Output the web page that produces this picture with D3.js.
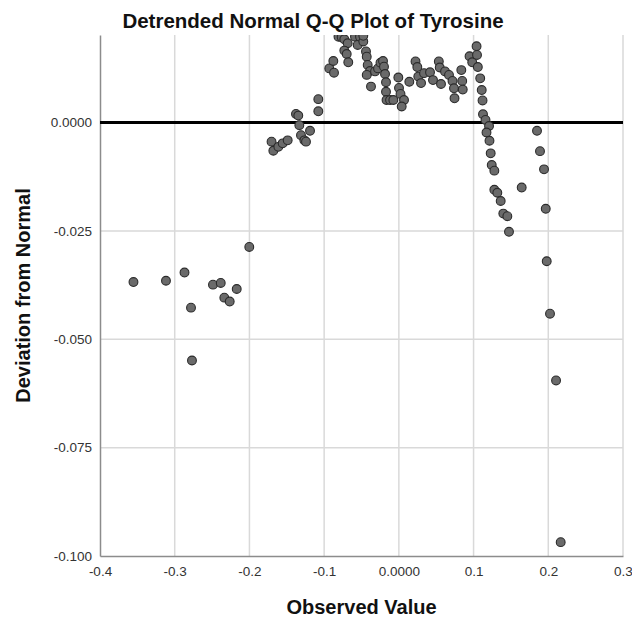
<!DOCTYPE html>
<html>
<head>
<meta charset="utf-8">
<script src="https://cdnjs.cloudflare.com/ajax/libs/d3/7.8.5/d3.min.js"></script>
<style>
    body { margin: 0; background: #fff; }
    text { font-family: Arial, "Liberation Sans", sans-serif; }
</style>
</head>
<body>
<div id="chart"></div>
<script>
var title = "Detrended Normal Q-Q Plot of Tyrosine",
    x_label = "Observed Value",
    y_label = "Deviation from Normal";

var observed = [
    -0.3552, -0.3117, -0.2869, -0.2782, -0.2769, -0.2488, -0.2384, -0.2336, -0.2264, -0.2170, -0.2002,
    -0.1704, -0.1680, -0.1613, -0.1555, -0.1488, -0.1377, -0.1346, -0.1332, -0.1310, -0.1265, -0.1243,
    -0.1189, -0.1078, -0.1078, -0.0931, -0.0877, -0.0868, -0.0808, -0.0765, -0.0730, -0.0685, -0.0730,
    -0.0698, -0.0677, -0.0587, -0.0551, -0.0520, -0.0476, -0.0476, -0.0440, -0.0430, -0.0417, -0.0386,
    -0.0430, -0.0373, -0.0319, -0.0279, -0.0246, -0.0212, -0.0199, -0.0185, -0.0172, -0.0172, -0.0165,
    -0.0118, -0.0074, -0.0007, 0.0002, 0.0022, 0.0069, 0.0038, 0.0140, 0.0223, 0.0247, 0.0260, 0.0297,
    0.0337, 0.0417, 0.0457, 0.0535, 0.0547, 0.0564, 0.0618, 0.0671, 0.0718, 0.0738, 0.0745, 0.0836,
    0.0848, 0.0855, 0.0946, 0.0982, 0.1040, 0.1046, 0.1057, 0.1089, 0.1109, 0.1120, 0.1126, 0.1160,
    0.1207, 0.1173, 0.1213, 0.1229, 0.1243, 0.1278, 0.1278, 0.1318, 0.1363, 0.1398, 0.1452, 0.1474,
    0.1644, 0.1849, 0.1889, 0.1943, 0.1966, 0.1979, 0.2023, 0.2104, 0.2166
];
var deviation = [
    -0.0368, -0.0365, -0.0346, -0.0427, -0.0549, -0.0374, -0.0370, -0.0404, -0.0413, -0.0384, -0.0287,
    -0.0044, -0.0065, -0.0056, -0.0048, -0.0041, 0.0020, 0.0016, -0.0006, -0.0029, -0.0041, -0.0044,
    -0.0019, 0.0026, 0.0054, 0.0125, 0.0142, 0.0115, 0.0198, 0.0197, 0.0192, 0.0183, 0.0166,
    0.0158, 0.0139, 0.0198, 0.0179, 0.0198, 0.0187, 0.0200, 0.0164, 0.0152, 0.0133, 0.0119,
    0.0110, 0.0083, 0.0118, 0.0125, 0.0138, 0.0142, 0.0129, 0.0112, 0.0093, 0.0071, 0.0052,
    0.0052, 0.0052, 0.0104, 0.0080, 0.0066, 0.0052, 0.0037, 0.0094, 0.0141, 0.0128, 0.0106, 0.0091,
    0.0114, 0.0116, 0.0098, 0.0141, 0.0127, 0.0089, 0.0118, 0.0110, 0.0096, 0.0079, 0.0056, 0.0121,
    0.0096, 0.0076, 0.0153, 0.0139, 0.0176, 0.0156, 0.0128, 0.0102, 0.0075, 0.0051, 0.0019, 0.0006,
    -0.0008, -0.0023, -0.0042, -0.0071, -0.0098, -0.0111, -0.0155, -0.0162, -0.0181, -0.0210, -0.0216, -0.0252,
    -0.0150, -0.0019, -0.0066, -0.0108, -0.0199, -0.0320, -0.0441, -0.0595, -0.0968
];

var x_ticks = [-0.4, -0.3, -0.2, -0.1, 0, 0.1, 0.2, 0.3],
    x_tick_labels = ["-0.4", "-0.3", "-0.2", "-0.1", "0.0000", "0.1", "0.2", "0.3"],
    y_ticks = [0, -0.025, -0.05, -0.075, -0.1],
    y_tick_labels = ["0.0000", "-0.025", "-0.050", "-0.075", "-0.100"];

var width = 632,
    height = 625,
    margin = {top: 35, right: 9, bottom: 69, left: 100};

var svg = d3.select("#chart").append("svg")
    .attr("width", width)
    .attr("height", height);

var x = d3.scaleLinear()
    .domain([-0.4, 0.3])
    .range([margin.left, width - margin.right]);
var y = d3.scaleLinear()
    .domain([-0.1, 0.0202])
    .range([height - margin.bottom, margin.top]);

svg.append("clipPath").attr("id", "plot_clip")
    .append("rect")
    .attr("x", margin.left)
    .attr("y", margin.top)
    .attr("width", width - margin.left - margin.right)
    .attr("height", height - margin.top - margin.bottom);

// gridlines
svg.append("g")
    .selectAll("line")
    .data(x_ticks.slice(1))
    .join("line")
    .attr("x1", d => x(d)).attr("x2", d => x(d))
    .attr("y1", margin.top).attr("y2", height - margin.bottom)
    .attr("stroke", "#d9d9d9")
    .attr("stroke-width", 1.5);
svg.append("g")
    .selectAll("line")
    .data(y_ticks.slice(1, 4))
    .join("line")
    .attr("x1", margin.left).attr("x2", width - margin.right)
    .attr("y1", d => y(d)).attr("y2", d => y(d))
    .attr("stroke", "#d9d9d9")
    .attr("stroke-width", 1.5);

// axes
var x_axis = d3.axisBottom(x)
    .tickValues(x_ticks)
    .tickFormat((d, i) => x_tick_labels[i])
    .tickSize(0)
    .tickPadding(10);
var y_axis = d3.axisLeft(y)
    .tickValues(y_ticks)
    .tickFormat((d, i) => y_tick_labels[i])
    .tickSize(0)
    .tickPadding(8);

var gx = svg.append("g")
    .attr("transform", `translate(0,${height - margin.bottom})`)
    .call(x_axis);
var gy = svg.append("g")
    .attr("transform", `translate(${margin.left},0)`)
    .call(y_axis);

[gx, gy].forEach(function (g) {
    g.select(".domain").attr("stroke", "#8c8c8c").attr("stroke-width", 1.5);
    g.selectAll("text")
        .style("font-size", "13.5px")
        .style("font-family", "Arial, 'Liberation Sans', sans-serif")
        .attr("fill", "#333");
});

// zero reference line
svg.append("line")
    .attr("x1", margin.left).attr("x2", width - margin.right)
    .attr("y1", y(0)).attr("y2", y(0))
    .attr("stroke", "#000")
    .attr("stroke-width", 3);

// points
svg.append("g")
    .attr("clip-path", "url(#plot_clip)")
    .selectAll("circle")
    .data(observed)
    .join("circle")
    .attr("cx", d => x(d))
    .attr("cy", (d, i) => y(deviation[i]))
    .attr("r", 4.4)
    .attr("fill", "#6a6a6a")
    .attr("stroke", "#2b2b2b")
    .attr("stroke-width", 1.1);

// titles
svg.append("text")
    .attr("x", width / 2 - 3)
    .attr("y", 28)
    .attr("text-anchor", "middle")
    .style("font-size", "20.5px")
    .style("font-weight", "bold")
    .attr("fill", "#111")
    .text(title);

svg.append("text")
    .attr("x", (margin.left + width - margin.right) / 2)
    .attr("y", 614)
    .attr("text-anchor", "middle")
    .style("font-size", "20px")
    .style("font-weight", "bold")
    .attr("fill", "#111")
    .text(x_label);

svg.append("text")
    .attr("transform", `translate(30,${(margin.top + height - margin.bottom) / 2}) rotate(-90)`)
    .attr("text-anchor", "middle")
    .style("font-size", "20px")
    .style("font-weight", "bold")
    .attr("fill", "#111")
    .text(y_label);
</script>
</body>
</html>
